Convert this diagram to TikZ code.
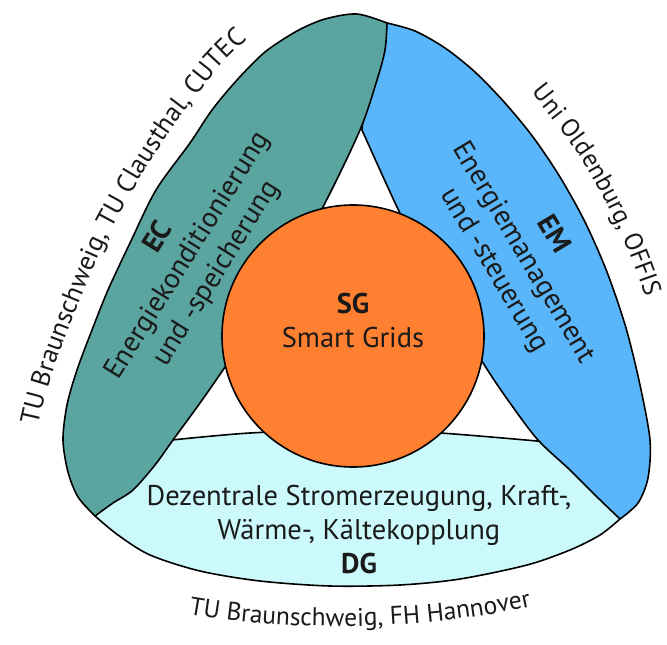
\documentclass[tikz,border=0pt]{standalone}
\usepackage{fontspec}
\setmainfont{PT Sans}
\usetikzlibrary{decorations.text}
\definecolor{ecgreen}{HTML}{5BA5A0}
\definecolor{emblue}{HTML}{5AB6FA}
\definecolor{dgcyan}{HTML}{CCFAFC}
\definecolor{sgorange}{HTML}{FF8030}
\definecolor{ink}{HTML}{1A1A1A}
\begin{document}
\begin{tikzpicture}[x=1pt,y=-1pt,
  region/.style={line width=1.6pt, draw=black, line join=round},
  lbl/.style={font=\fontsize{28.5}{34}\selectfont, align=center, inner sep=0pt, text=ink},
  arclbl/.style={decorate, decoration={text along path, text color=ink, text={#1}}}]
\useasboundingbox (0,0) rectangle (667,645);
\fill[white] (0,0) rectangle (667,645);
% DG region
\draw[region, fill=dgcyan] plot[smooth] coordinates {(95,516) (118,535) (150,555) (200,571) (260,581) (330,586) (400,585) (460,579) (527,565) (570,550) (600,535) (620,519)}
  -- (600,482) -- (560,448) -- plot[smooth] coordinates {(548,442) (440,433) (353,430) (250,433) (162,441)} -- (130,465) -- cycle;
% EM region
\draw[region, fill=emblue] plot[smooth] coordinates {(387,23) (415,31) (445,48) (475,72) (505,103) (533,137) (560,177) (585,222) (607,272) (626,328) (640,385) (650,440) (648,478) (638,503) (620,519)}
  -- plot[smooth] coordinates {(620,519) (595,495) (570,470) (538,440) (510,403) (485,366) (438,290) (397,207) (362,130)} -- (366,75) -- cycle;
% EC region
\draw[region, fill=ecgreen] plot[smooth] coordinates {(387,23) (357,14) (325,19) (297,31) (265,52) (237,80) (212,110) (190,143) (156,190) (130,243) (108,290) (92,330) (77,370) (67,405) (63,440) (68,472) (78,497) (95,516)}
  -- plot[smooth] coordinates {(95,516) (113,503) (133,490) (155,465) (173,440) (200,403) (225,367) (278,288) (323,207) (360,130) (377,80) (385,50) (387,23)} -- cycle;
% SG circle
\draw[region, fill=sgorange] (353,336) circle[radius=131pt];
% labels
\node[lbl, rotate=58] (ec) at (188,256) {{\bfseries EC}\\Energiekonditionierung\\und -speicherung};
\node[lbl, rotate=-59] (em) at (523,253) {{\bfseries EM}\\Energiemanagement\\und -steuerung};
\node[lbl] (sg) at (353,320) {{\bfseries SG}\\Smart Grids};
\node[lbl] (dg) at (359,530) {Dezentrale Stromerzeugung, Kraft-,\\Wärme-, Kältekopplung\\{\bfseries DG}};
% outer labels
\path[arclbl={|\fontsize{26.5}{31}\selectfont|TU Braunschweig, TU Clausthal, CUTEC}] plot[smooth] coordinates {(38,426) (44,401) (56,362) (71,322) (89,278) (109,234) (139,180) (171,130) (197,95) (221,65) (252,36) (286,12) (320,0) (350,-8)};
\path[arclbl={|\fontsize{25.5}{30}\selectfont|Uni Oldenburg, OFFIS}] plot[smooth] coordinates {(531,92) (556,124) (580,157) (606,203) (630,255) (650,312) (664,372) (670,420)};
\path[arclbl={|\fontsize{25.5}{30}\selectfont|TU Braunschweig, FH Hannover}, decoration={text align=center}] (178,612) .. controls (290,634) and (430,630) .. (542,604);
\end{tikzpicture}
\end{document}
